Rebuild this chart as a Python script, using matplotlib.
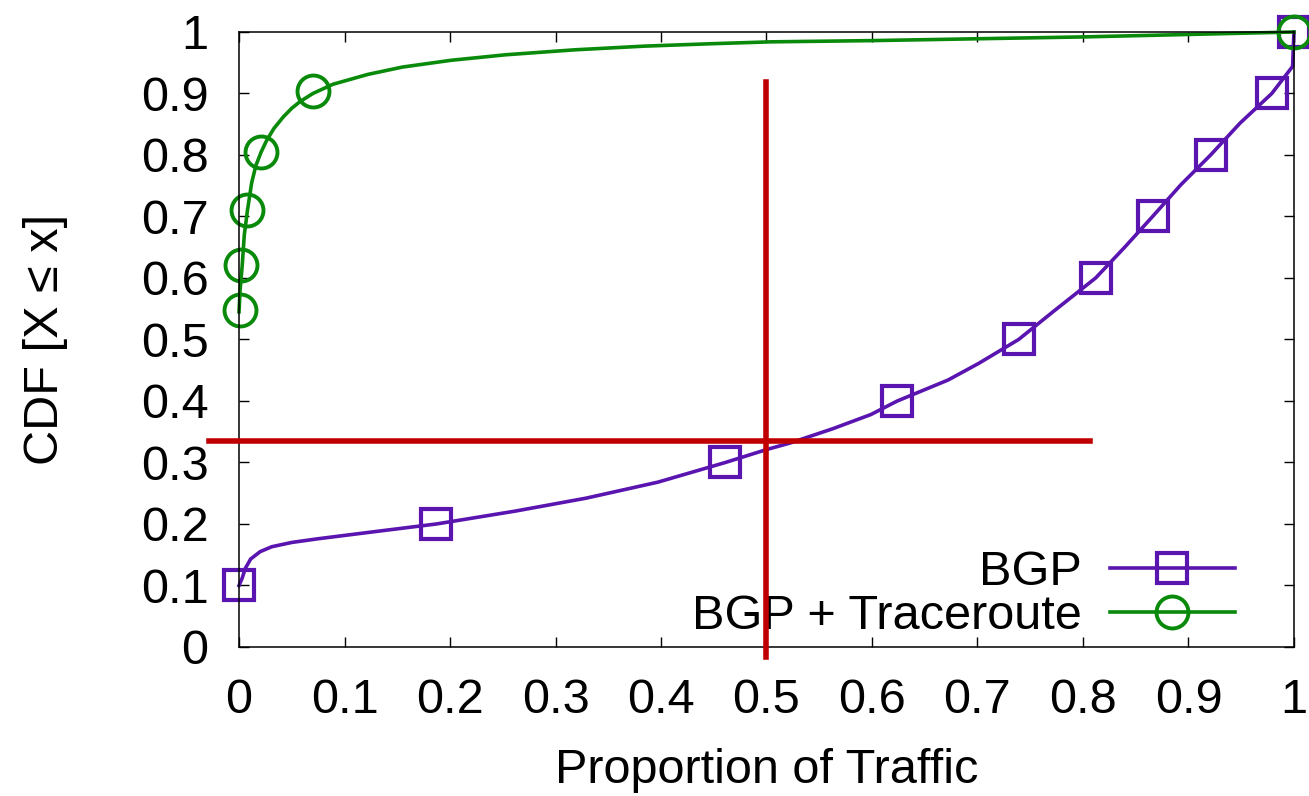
import matplotlib
matplotlib.use("Agg")
import matplotlib.pyplot as plt
from matplotlib.lines import Line2D
from matplotlib.ticker import FormatStrFormatter

plt.rcParams['font.family'] = ['Liberation Sans', 'DejaVu Sans']

# BGP curve
bgp_x = [0.0, 0.003, 0.006, 0.011, 0.02, 0.031, 0.05, 0.075, 0.126, 0.187, 0.262,
         0.329, 0.397, 0.461, 0.5, 0.523, 0.563, 0.599, 0.624, 0.672, 0.701, 0.739,
         0.773, 0.812, 0.839, 0.866, 0.893, 0.921, 0.949, 0.979, 0.9987, 1.0]
bgp_y = [0.1, 0.112, 0.128, 0.143, 0.155, 0.163, 0.17, 0.176, 0.187, 0.2, 0.221,
         0.242, 0.268, 0.3, 0.321, 0.332, 0.355, 0.378, 0.4, 0.434, 0.461, 0.5,
         0.547, 0.6, 0.649, 0.7, 0.752, 0.8, 0.852, 0.9, 0.944, 1.0]
bgp_mark_x = [0.0, 0.187, 0.461, 0.624, 0.739, 0.812, 0.866, 0.921, 0.979, 1.0]
bgp_mark_y = [0.1, 0.2, 0.3, 0.4, 0.5, 0.6, 0.7, 0.8, 0.9, 1.0]

# BGP + Traceroute curve
tr_x = [0.0, 0.001, 0.003, 0.005, 0.008, 0.012, 0.016, 0.021, 0.026, 0.033, 0.042,
        0.05, 0.058, 0.070, 0.089, 0.122, 0.155, 0.201, 0.253, 0.318, 0.384, 0.449,
        0.504, 0.6, 0.7, 0.8, 0.9, 1.0]
tr_y = [0.545, 0.58, 0.62, 0.67, 0.71, 0.755, 0.783, 0.805, 0.823, 0.843, 0.862,
        0.876, 0.887, 0.90, 0.915, 0.931, 0.943, 0.954, 0.963, 0.971, 0.977, 0.981,
        0.984, 0.986, 0.989, 0.992, 0.996, 1.0]
tr_mark_x = [0.001, 0.002, 0.008, 0.021, 0.070, 1.0]
tr_mark_y = [0.548, 0.621, 0.711, 0.805, 0.904, 1.0]

# red guide lines
vline_x = [0.5, 0.5]
vline_y = [-0.016, 0.919]
hline_x = [-0.028, 0.807]
hline_y = [0.335, 0.335]

purple = '#5a14b0'
green = '#0a8a0a'
red = '#c00000'
fs = 35

fig = plt.figure(figsize=(13.09, 7.96), dpi=100)
ax = fig.add_axes([0.1826, 0.1872, 0.8059, 0.7726])

ax.plot(bgp_x, bgp_y, color=purple, lw=2.6, clip_on=False)
ax.plot(bgp_mark_x, bgp_mark_y, ls='none', marker='s', ms=22, mfc='none',
        mec=purple, mew=3.0, clip_on=False)
ax.plot(tr_x, tr_y, color=green, lw=2.6, clip_on=False)
ax.plot(tr_mark_x, tr_mark_y, ls='none', marker='o', ms=23, mfc='none',
        mec=green, mew=2.8, clip_on=False)

ax.plot(vline_x, vline_y, color=red, lw=4, clip_on=False, zorder=10)
ax.plot(hline_x, hline_y, color=red, lw=4, clip_on=False, zorder=10)

ax.set_xlim(0, 1)
ax.set_ylim(0, 1)
ticks = [i / 10 for i in range(11)]
ax.set_xticks(ticks)
ax.set_yticks(ticks)
ax.xaxis.set_major_formatter(FormatStrFormatter('%g'))
ax.yaxis.set_major_formatter(FormatStrFormatter('%g'))
ax.tick_params(direction='in', length=7, width=1, top=True, right=True,
               labelsize=fs)
ax.tick_params(axis='y', pad=22)
ax.tick_params(axis='x', pad=22)
for s in ax.spines.values():
    s.set_linewidth(1.1)

ax.set_xlabel('Proportion of Traffic', fontsize=fs, labelpad=18)
ax.set_ylabel('CDF [X ≤ x]', fontsize=fs, labelpad=52)

handles = [
    Line2D([], [], color=purple, lw=2.6, marker='s', ms=22, mfc='none',
           mec=purple, mew=3.0),
    Line2D([], [], color=green, lw=2.6, marker='o', ms=23, mfc='none',
           mec=green, mew=2.8),
]
leg = ax.legend(handles, ['BGP', 'BGP + Traceroute'], loc='lower right',
                bbox_to_anchor=(0.944, 0.013), frameon=False, fontsize=fs,
                markerfirst=False, numpoints=1, handlelength=2.57,
                handletextpad=0.58, labelspacing=-0.03, borderpad=0,
                borderaxespad=0)

fig.savefig('out.png', dpi=100)
